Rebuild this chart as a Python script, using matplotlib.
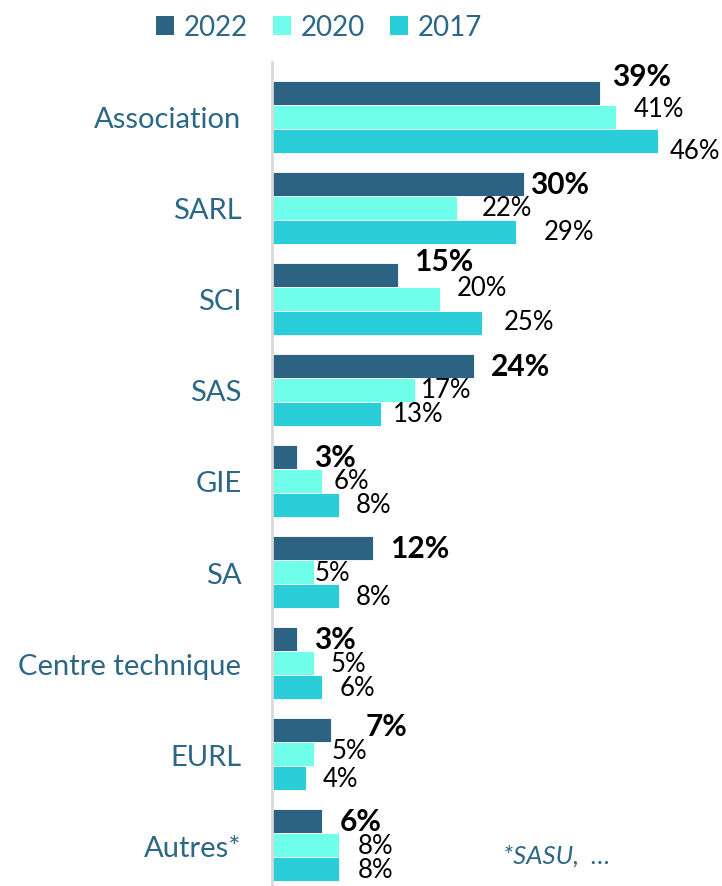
import matplotlib
matplotlib.use("Agg")
from matplotlib import pyplot as plt
from matplotlib.patches import Patch

# data
categories = ["Association", "SARL", "SCI", "SAS", "GIE", "SA",
              "Centre technique", "EURL", "Autres*"]
years = ["2022", "2020", "2017"]
values_2022 = [39, 30, 15, 24, 3, 12, 3, 7, 6]
values_2020 = [41, 22, 20, 17, 6, 5, 5, 5, 8]
values_2017 = [46, 29, 25, 13, 8, 8, 6, 4, 8]
footnote = "*SASU,  \u2026"

colors = ["#2C6282", "#70FFEA", "#29CED8"]
label_color = "#2D6786"
plt.rcParams['font.family'] = ['Lato', 'DejaVu Sans']

# label nudges (dx, dy in pixels) where the original labels sit off-centre
default_dx = 17
nudges = {
    (0, 0): (12, -17), (0, 1): (17, -8), (0, 2): (11, 10),
    (1, 0): (6, 0), (1, 1): (25, 0), (1, 2): (28, 0),
    (2, 0): (16, -14), (2, 1): (17, -11), (2, 2): (22, -1),
    (3, 1): (6, 0), (3, 2): (12, 0),
    (4, 1): (11, 0),
    (5, 1): (1, 0),
    (7, 0): (35, -4), (7, 1): (18, -4),
    (8, 1): (19, 0), (8, 2): (19, 0),
}

W, H = 722, 887
fig = plt.figure(figsize=(W / 100, H / 100), dpi=100)
# axes placed in pixel terms: spine at x=272, top at y=63
ax = fig.add_axes([272 / W, 1 - 900 / H, 420 / W, (900 - 63) / H])

bar_h = 24 / 91.1
series = [values_2022, values_2020, values_2017]
for s, vals in enumerate(series):
    ys = [i + (s - 1) * bar_h for i in range(len(categories))]
    ax.barh(ys, vals, height=bar_h, color=colors[s], edgecolor="white",
            linewidth=0.6, label=years[s])
    for i, v in enumerate(vals):
        dx, dy = nudges.get((i, s), (default_dx, 0))
        ax.annotate(f"{v}%", (v, ys[i]), xytext=(dx * 0.72, -dy * 0.72),
                    textcoords="offset points", ha="left", va="center",
                    fontsize=21.5 if s == 0 else 18.5,
                    fontweight="bold" if s == 0 else "normal",
                    color="black", annotation_clip=False)

ax.set_xlim(0, 50)
ax.set_ylim((900 - 117.5) / 91.1, -(117.5 - 63) / 91.1)
ax.set_yticks(range(len(categories)))
ax.set_yticklabels(categories, fontsize=21, color=label_color)
ax.tick_params(axis="y", length=0, pad=22)
ax.set_xticks([])
for side in ["top", "right", "bottom"]:
    ax.spines[side].set_visible(False)
ax.spines["left"].set_color("#D9D9D9")
ax.spines["left"].set_linewidth(2)

handles = [Patch(facecolor=c, label=y) for c, y in zip(colors, years)]
fig.legend(handles=handles, loc="center", ncol=3, frameon=False,
           bbox_to_anchor=(319 / W, 1 - 28 / H), fontsize=20,
           labelcolor=label_color, handlelength=0.65, handleheight=0.65,
           handletextpad=0.35, columnspacing=0.9)

fig.text(503 / W, 1 - 856 / H, footnote, fontsize=18.5, style="italic",
         color=label_color, ha="left", va="center")

fig.savefig("out.png", dpi=100)
